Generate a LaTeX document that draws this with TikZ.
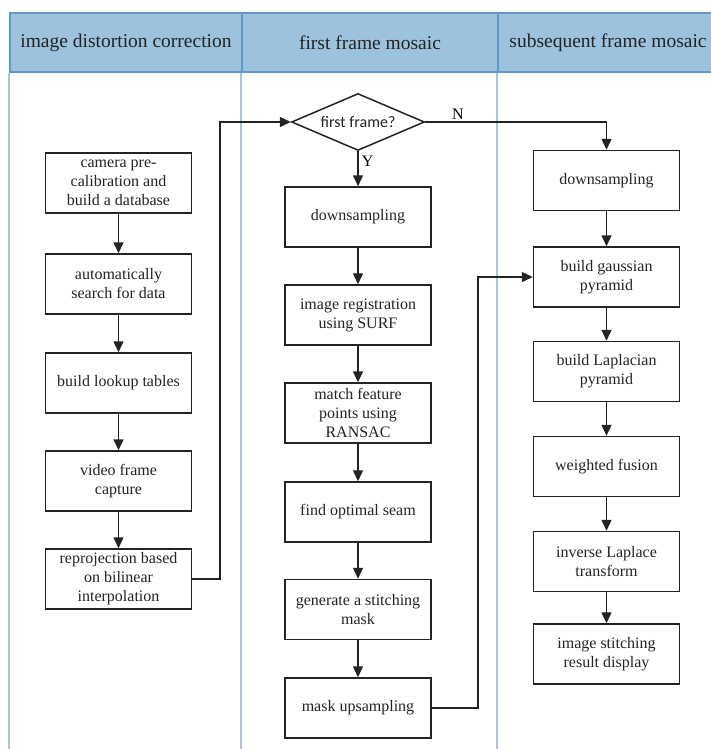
\documentclass[tikz,border=0pt]{standalone}
\usepackage{fontspec}
\setmainfont{Liberation Serif}
\newfontfamily\boxserif{Liberation Serif}
\newfontfamily\decfont{Carlito}
\definecolor{lanefill}{RGB}{156,194,222}
\definecolor{laneedge}{RGB}{98,152,200}
\definecolor{laneline}{RGB}{165,198,230}
\definecolor{inkgray}{RGB}{35,35,35}
\usepackage{tikz}
\usetikzlibrary{arrows.meta, shapes.geometric}

\begin{document}
\begin{tikzpicture}[x=1pt, y=1pt,
    procbox/.style={draw=inkgray, line width=1.5pt, minimum width=146pt,
                    minimum height=60pt, inner sep=2pt, align=center,
                    font=\boxserif\fontsize{16}{19}\selectfont, text=inkgray},
    decision/.style={draw=inkgray, line width=1.5pt, diamond, aspect=2.3,
                     minimum width=133pt, minimum height=57pt, inner sep=0pt,
                     font=\decfont\fontsize{16}{19}\selectfont, text=inkgray},
    lanehead/.style={draw=laneedge, fill=lanefill, line width=1.8pt,
                     minimum height=59pt, inner sep=0pt,
                     font=\boxserif\fontsize{19.5}{22}\selectfont, text=inkgray},
    laneline/.style={draw=laneline, line width=1.4pt},
    flow/.style={draw=inkgray, line width=1.5pt,
                 -{Triangle[length=11pt,width=10pt]}}]
  \useasboundingbox (0,0) rectangle (711,-749);

  % swimlane headers
  \node[lanehead, minimum width=232pt] (laneDist) at (126,-42.5)
    {image distortion correction};
  \node[lanehead, minimum width=256pt] (laneFirst) at (370,-42.5)
    {first frame mosaic};
  \node[lanehead, minimum width=220pt] (laneNext) at (608,-42.5)
    {subsequent frame mosaic};
  \draw[laneline] (laneDist.south west) -- ++(0,-677);
  \draw[laneline] (laneFirst.south west) -- ++(0,-677);
  \draw[laneline] (laneNext.south west) -- ++(0,-677);

  % image distortion correction
  \node[procbox] (calib) at (118.5,-183) {camera pre-\\calibration and\\build a database};
  \node[procbox] (search) at (118.5,-284) {automatically\\search for data};
  \node[procbox] (lookup) at (118.5,-383) {build lookup tables};
  \node[procbox] (capture) at (118.5,-481) {video frame\\capture};
  \node[procbox] (reproj) at (118.5,-579) {reprojection based\\on bilinear\\interpolation};

  % first frame mosaic
  \node[decision] (isfirst) at (358,-122) {first frame?};
  \node[procbox] (fdown) at (358,-217) {downsampling};
  \node[procbox] (surf) at (358,-315) {image registration\\using SURF};
  \node[procbox] (ransac) at (358,-413) {match feature\\points using\\RANSAC};
  \node[procbox] (seam) at (358,-512) {find optimal seam};
  \node[procbox] (mask) at (358,-609.5) {generate a stitching\\mask};
  \node[procbox] (upsamp) at (358,-708) {mask upsampling};

  % subsequent frame mosaic
  \node[procbox] (ndown) at (606.5,-180.5) {downsampling};
  \node[procbox] (gauss) at (606.5,-277) {build gaussian\\pyramid};
  \node[procbox] (lapl) at (606.5,-371.5) {build Laplacian\\pyramid};
  \node[procbox] (fusion) at (606.5,-466.5) {weighted fusion};
  \node[procbox] (invlap) at (606.5,-561.5) {inverse Laplace\\transform};
  \node[procbox] (result) at (606.5,-654) {image stitching\\result display};

  \coordinate (bendA) at (220,-122);
  \coordinate (bendB) at (478,-277);

  \draw[flow] (calib) -- (search);
  \draw[flow] (search) -- (lookup);
  \draw[flow] (lookup) -- (capture);
  \draw[flow] (capture) -- (reproj);
  \draw[flow] (reproj.east) -| (bendA) -- (isfirst.west);

  \draw[flow] (isfirst.south) -- node[pos=0.3, right, inner sep=3pt,
    font=\boxserif\fontsize{16}{19}\selectfont] {Y} (fdown.north);
  \draw[flow] (isfirst.east) -| node[pos=0.09, above, inner sep=2pt,
    font=\boxserif\fontsize{16}{19}\selectfont] {N} (ndown.north);
  \draw[flow] (fdown) -- (surf);
  \draw[flow] (surf) -- (ransac);
  \draw[flow] (ransac) -- (seam);
  \draw[flow] (seam) -- (mask);
  \draw[flow] (mask) -- (upsamp);
  \draw[flow] (upsamp.east) -| (bendB) -- (gauss.west);

  \draw[flow] (ndown) -- (gauss);
  \draw[flow] (gauss) -- (lapl);
  \draw[flow] (lapl) -- (fusion);
  \draw[flow] (fusion) -- (invlap);
  \draw[flow] (invlap) -- (result);
\end{tikzpicture}
\end{document}
